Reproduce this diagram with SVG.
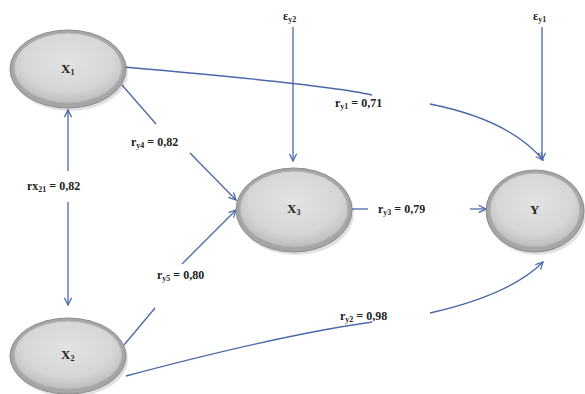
<svg xmlns="http://www.w3.org/2000/svg" width="585" height="394" viewBox="0 0 585 394">
<style>
.lbl{font-family:"Liberation Serif","Times New Roman",serif;font-weight:bold;font-size:12px;fill:#222}
.nt{font-family:"Liberation Serif","Times New Roman",serif;font-weight:bold;font-size:13px;fill:#222}
.c{fill:none;stroke:#4a68a8;stroke-width:1.3}
.outer{fill:#a6a6a6;stroke:#8c8c8c;stroke-width:1}
.inner{fill:url(#g);stroke:#b0b0b0;stroke-width:1}
.sh{fill:#000;opacity:0.12}
</style>
<defs>
<radialGradient id="g" cx="50%" cy="40%" r="60%">
<stop offset="0" stop-color="#e2e2e2"/>
<stop offset="0.7" stop-color="#d6d6d6"/>
<stop offset="1" stop-color="#bdbdbd"/>
</radialGradient>
<marker id="a" viewBox="0 0 10 10" refX="9" refY="5" markerWidth="9" markerHeight="9" orient="auto-start-reverse" markerUnits="userSpaceOnUse">
<path d="M1,1 L9,5 L1,9" fill="none" stroke="#4a68a8" stroke-width="1.4"/>
</marker>
</defs>
<rect width="585" height="394" fill="#fff"/>
<g id="connectors">
<path class="c" d="M68,171 V110" marker-end="url(#a)"/>
<path class="c" d="M68,202 V305" marker-end="url(#a)"/>
<path class="c" d="M124,67 Q330,85 372,95"/>
<path class="c" d="M430,104 Q510,120 543,160" marker-end="url(#a)"/>
<path class="c" d="M122,85 L156,124"/>
<path class="c" d="M190,153 L236,200" marker-end="url(#a)"/>
<path class="c" d="M124,345 L155,308"/>
<path class="c" d="M182,264 L236,210" marker-end="url(#a)"/>
<path class="c" d="M126,376 Q280,335 372,322"/>
<path class="c" d="M430,313 Q510,295 543,262" marker-end="url(#a)"/>
<path class="c" d="M351,209 H368"/>
<path class="c" d="M470,209 H486" marker-end="url(#a)"/>
<path class="c" d="M293,27 V161" marker-end="url(#a)"/>
<path class="c" d="M542,27 V160" marker-end="url(#a)"/>
</g>
<g id="labels">
<text class="lbl" x="335" y="107">r<tspan font-size="8" dy="2">y1</tspan><tspan dy="-2"> = 0,71</tspan></text>
<text class="lbl" x="131" y="146">r<tspan font-size="8" dy="2">y4</tspan><tspan dy="-2"> = 0,82</tspan></text>
<text class="lbl" x="27" y="190">rx<tspan font-size="8" dy="2">21</tspan><tspan dy="-2"> = 0,82</tspan></text>
<text class="lbl" x="157" y="279">r<tspan font-size="8" dy="2">y5</tspan><tspan dy="-2"> = 0,80</tspan></text>
<text class="lbl" x="378" y="213">r<tspan font-size="8" dy="2">y3</tspan><tspan dy="-2"> = 0,79</tspan></text>
<text class="lbl" x="340" y="320">r<tspan font-size="8" dy="2">y2</tspan><tspan dy="-2"> = 0,98</tspan></text>
<text class="lbl" x="283" y="20">ε<tspan font-size="8" dy="2">y2</tspan></text>
<text class="lbl" x="533" y="20">ε<tspan font-size="8" dy="2">y1</tspan></text>
</g>
<g id="X1">
<ellipse class="sh" cx="70" cy="72" rx="58" ry="39"/>
<ellipse class="outer" cx="68" cy="69" rx="58" ry="39"/>
<ellipse class="inner" cx="68" cy="68" rx="54" ry="35"/>
<text class="nt" x="61" y="73">X<tspan font-size="8" dy="2">1</tspan></text>
</g>
<g id="X2">
<ellipse class="sh" cx="70" cy="359" rx="58" ry="38"/>
<ellipse class="outer" cx="68" cy="356" rx="58" ry="38"/>
<ellipse class="inner" cx="68" cy="355" rx="54" ry="34"/>
<text class="nt" x="61" y="359">X<tspan font-size="8" dy="2">2</tspan></text>
</g>
<g id="X3">
<ellipse class="sh" cx="296" cy="213" rx="58" ry="42"/>
<ellipse class="outer" cx="294" cy="210" rx="58" ry="42"/>
<ellipse class="inner" cx="294" cy="209" rx="54" ry="38"/>
<text class="nt" x="287" y="213">X<tspan font-size="8" dy="2">3</tspan></text>
</g>
<g id="Y">
<ellipse class="sh" cx="537" cy="214" rx="49" ry="41"/>
<ellipse class="outer" cx="535" cy="211" rx="49" ry="41"/>
<ellipse class="inner" cx="535" cy="210" rx="45" ry="37"/>
<text class="nt" x="530" y="214">Y</text>
</g>
</svg>
